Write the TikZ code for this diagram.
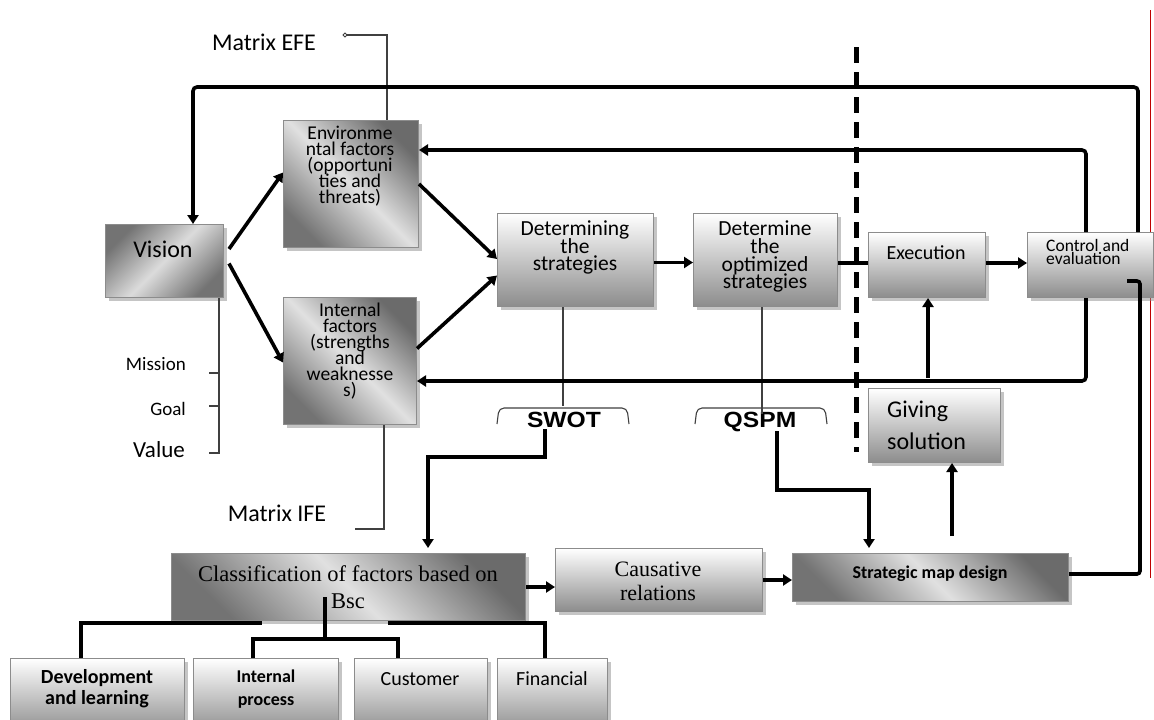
\documentclass[tikz,border=0pt]{standalone}
\usepackage{fontspec}
\setmainfont{Carlito}
\newfontfamily\tnr{Liberation Serif}
\newfontfamily\arl{Liberation Sans}
\usetikzlibrary{arrows.meta,shadows}
\newcommand\fs[2]{\fontsize{#1}{#2}\selectfont\lineskiplimit=-100pt\lineskip=0pt\relax}
\tikzset{
 base/.style={draw=black!45, line width=1pt, inner sep=0pt, anchor=north west,
   drop shadow={shadow xshift=3pt, shadow yshift=-3pt, fill=black!45, opacity=0.5}},
 diag/.style={base, left color=black!55, right color=black!58, middle color=black!12, shading angle=135},
 diagb/.style={base, left color=black!55, right color=black!55, middle color=black!14, shading angle=45},
 vert/.style={base, top color=white, bottom color=black!45},
 thickline/.style={line width=3.6pt},
 arr/.style={line width=3.6pt, -{Triangle[width=11pt,length=9pt]}},
 thinline/.style={line width=1.1pt, draw=black!75},
 txt/.style={inner sep=0pt},
}
\begin{document}
\begin{tikzpicture}[x=1pt,y=-1pt]
\useasboundingbox[fill=white] (0,0) rectangle (1154,720);
% red margin line
\draw[red!75!black, line width=0.9pt] (1150,10) -- (1150,578);

% boxes
\node[diagb, minimum width=118pt, minimum height=73pt] (vision) at (105,224) {};
\node[diag, minimum width=135pt, minimum height=127pt] (env) at (283,120) {};
\node[diag, minimum width=133pt, minimum height=127pt] (internal) at (283,297) {};
\node[vert, minimum width=156pt, minimum height=93pt] (det) at (497,213) {};
\node[vert, minimum width=144pt, minimum height=93pt] (opt) at (693,213) {};
\node[vert, minimum width=117pt, minimum height=65pt] (exec) at (868,232) {};
\node[vert, minimum width=126pt, minimum height=65pt] (ctrl) at (1027,232) {};
\node[vert, minimum width=132pt, minimum height=74pt] (giving) at (868,388) {};
\node[diag, minimum width=354pt, minimum height=67pt] (cls) at (171,553) {};
\node[vert, minimum width=207pt, minimum height=63pt] (caus) at (555,548) {};
\node[diag, minimum width=276pt, minimum height=48pt] (smap) at (792,553) {};
\node[vert, minimum width=174pt, minimum height=75pt] (dev) at (10,658) {};
\node[vert, minimum width=145pt, minimum height=75pt] (intp) at (193,658) {};
\node[vert, minimum width=133pt, minimum height=75pt] (cust) at (354,658) {};
\node[vert, minimum width=110pt, minimum height=75pt] (fin) at (497,658) {};

% texts
\node[txt, font=\fs{24}{24}] (tvision) at (163,249) {Vision};
\node[txt, align=center, anchor=north, font=\fs{19.5}{15.9}] (tenv) at (350,126) {Environme\\ntal factors\\(opportuni\\ties and\\threats)};
\node[txt, align=center, anchor=north, font=\fs{19.5}{15.9}] (tint) at (350,303) {Internal\\factors\\(strengths\\and\\weaknesse\\s)};
\node[txt, align=center, anchor=north, font=\fs{21.5}{17.3}] (tdet) at (575,221) {Determining\\the\\strategies};
\node[txt, align=center, anchor=north, font=\fs{21.5}{17.6}] (topt) at (765,221) {Determine\\the\\optimized\\strategies};
\node[txt, font=\fs{20}{20}] (texec) at (926,253) {Execution};
\node[txt, align=left, anchor=north west, font=\fs{17.5}{13.5}] (tctrl) at (1046,239) {Control and\\evaluation};
\node[txt, align=left, anchor=north west, font=\fs{24}{32}] (tgiv) at (887,401) {Giving\\solution};
\node[txt, align=center, anchor=north, font=\tnr\fs{22.5}{27}] (tcls) at (348,565) {Classification of factors based on\\Bsc};
\node[txt, align=center, anchor=north, font=\tnr\fs{22}{24}] (tcaus) at (658,562) {Causative\\relations};
\node[txt, font=\bfseries\fs{18}{18}] (tsmap) at (930,574) {Strategic map design};
\node[txt, align=center, anchor=north, font=\bfseries\fs{20}{21}] (tdev) at (97,669) {Development\\and learning};
\node[txt, align=center, anchor=north, font=\bfseries\fs{18}{23}] (tintp) at (266,670) {Internal\\process};
\node[txt, font=\fs{20}{20}] (tcust) at (420,679) {Customer};
\node[txt, font=\fs{20}{20}] (tfin) at (552,679) {Financial};
\node[txt, font=\fs{24}{24}] (tefe) at (264,42) {Matrix EFE};
\node[txt, font=\fs{24}{24}] (tife) at (277,513) {Matrix IFE};
\node[txt, anchor=east, font=\fs{19}{19}] (tmis) at (186,364) {Mission};
\node[txt, anchor=east, font=\fs{19}{19}] (tgoal) at (186,409) {Goal};
\node[txt, anchor=east, font=\fs{23}{23}] (tval) at (185,450) {Value};
\node[txt, anchor=base, xscale=1.12, font=\arl\bfseries\fs{22}{22}] (tswot) at (564,427) {SWOT};
\node[txt, anchor=base, xscale=1.12, font=\arl\bfseries\fs{22}{22}] (tqspm) at (760,427) {QSPM};

% thin connectors
\node[circle, draw=black!75, line width=0.8pt, inner sep=1.4pt] (efedot) at (345,35) {};
\coordinate (e1) at (387,35);
\draw[thinline] (efedot) -- (e1) -- (env.north -| e1);
\coordinate (i1) at (384,529);
\coordinate (i2) at (355,529);
\draw[thinline] (internal.south -| i1) -- (i1) -- (i2);
\coordinate (vb) at (219,453);
\coordinate (vb0) at (209,453);
\coordinate (vm) at (209,373);
\coordinate (vg) at (209,406);
\draw[thinline] (vision.south -| vb) -- (vb) -- (vb0);
\draw[thinline] (vm) -- (vm -| vb);
\draw[thinline] (vg) -- (vg -| vb);
\coordinate (sw) at (563,406);
\coordinate (qs) at (762,414);
\draw[thinline] (det.south -| sw) -- (sw);
\draw[thinline] (opt.south -| qs) -- (qs);
\draw[thinline, rounded corners=5pt] (497,424) -- (499,408) -- (627,408) -- (629,424);
\draw[thinline, rounded corners=5pt] (695,424) -- (697,408) -- (825,408) -- (827,424);

% thick connectors
\draw[arr] ([shift={(5,-12)}]vision.east) -- ([shift={(0,-11.5)}]env.west);
\draw[arr] ([shift={(5,2.5)}]vision.east) -- ([shift={(0,1.5)}]internal.west);
\draw[arr] (env.east) -- ([shift={(0,-1)}]det.west);
\draw[arr] ([shift={(0,-12.5)}]internal.east) -- ([shift={(0,15.5)}]det.west);
\draw[arr] ([shift={(0,2.5)}]det.east) -- ([shift={(0,2.5)}]opt.west);
\draw[thickline] ([shift={(0,3)}]opt.east) -- ([shift={(0,-2)}]exec.west);
\draw[arr] ([shift={(0,-2)}]exec.east) -- ([shift={(0,-2)}]ctrl.west);

\coordinate (tl) at (193,87);
\coordinate (tr) at (1138,87);
\draw[arr, rounded corners=4pt] (ctrl.north -| tr) -- (tr) -- (tl) -- (vision.north -| tl);
\coordinate (l2) at (1086,150);
\draw[arr, rounded corners=4pt] (ctrl.north -| l2) -- (l2) -- (env.east |- l2);
\coordinate (l3) at (1086,381);
\draw[arr, rounded corners=4pt] (ctrl.south -| l3) -- (l3) -- (internal.east |- l3);

\coordinate (r1) at (1127,281);
\coordinate (r2) at (1140,281);
\coordinate (r3) at (1140,574);
\draw[thickline, rounded corners=3pt] (r1) -- (r2) -- (r3) -- (smap.east |- r3);

\coordinate (ea) at (928,378);
\draw[arr] (ea) -- (exec.south -| ea);
\coordinate (ga) at (952,536);
\draw[arr] (ga) -- (giving.south -| ga);

\coordinate (s1) at (545,429);
\coordinate (s2) at (545,457);
\coordinate (s3) at (428,457);
\draw[arr, shorten >=5pt] (s1) -- (s2) -- (s3) -- (cls.north -| s3);
\coordinate (q1) at (777,431);
\coordinate (q2) at (777,490);
\coordinate (q3) at (869,490);
\draw[arr, shorten >=5pt] (q1) -- (q2) -- (q3) -- (smap.north -| q3);

\draw[arr] (cls.east) -- (caus.west |- cls.east);
\draw[arr] (caus.east) -- (smap.west |- caus.east);

% BSC branches
\coordinate (b1) at (81,623);
\coordinate (b2) at (262,623);
\coordinate (b3) at (388,623);
\coordinate (b4) at (545,623);
\draw[thickline] (dev.north -| b1) -- (b1) -- (b2);
\draw[thickline] (b3) -- (b4) -- (fin.north -| b4);
\coordinate (c0) at (325,597);
\coordinate (c1) at (325,639);
\coordinate (c2) at (253,639);
\coordinate (c3) at (398,639);
\draw[thickline] (c0) -- (c1);
\draw[thickline] (intp.north -| c2) -- (c2) -- (c3) -- (cust.north -| c3);

% dashed divider
\draw[line width=5pt, dash pattern=on 16pt off 9pt] (856,47) -- (856,452);
\end{tikzpicture}
\end{document}
